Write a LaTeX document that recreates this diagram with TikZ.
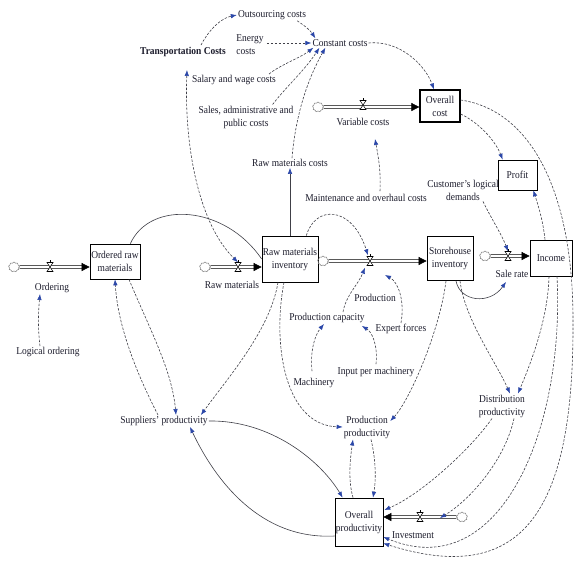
\documentclass[tikz,border=0pt]{standalone}
\usepackage{fontspec}
\setmainfont{Liberation Serif}[FakeStretch=0.9]
\usetikzlibrary{arrows.meta,calc,shapes.symbols}
\definecolor{lg}{HTML}{404048}
\definecolor{ab}{HTML}{2B47A8}
\definecolor{tx}{HTML}{1C1C2C}
\newcommand\flowto[2]{%
  \draw[pipe] (#1) -- (#2 |- #1);
  \draw[pipetip] ($(#2 |- #1)!7pt!(#1)$) -- (#2 |- #1);}
\begin{document}
\begin{tikzpicture}[x=1pt,y=-1pt,
  font=\fontsize{10.5}{13}\selectfont,
  lbl/.style={text=tx, inner sep=1pt, align=center},
  stock/.style={draw=black, line width=0.7pt, inner sep=0pt, align=center, text=tx},
  conn/.style={draw=lg, line width=0.6pt, dash pattern=on 2.5pt off 1.5pt,
     -{Latex[length=6pt,width=4.5pt,color=ab]}},
  sconn/.style={conn, solid},
  bconn/.style={draw=lg, line width=0.6pt, dash pattern=on 2.5pt off 1.5pt,
     {Latex[length=6pt,width=4.5pt,color=ab]}-{Latex[length=6pt,width=4.5pt,color=ab]}},
  pipe/.style={draw=black, double=white, double distance=1.8pt, line width=0.75pt, shorten >=6pt},
  pipetip/.style={-{Triangle[length=8pt,width=8pt]}, black, line width=0.5pt},
  cloudn/.style={cloud, cloud puffs=9, draw=gray, line width=0.5pt, minimum width=11pt, minimum height=10pt, inner sep=0pt},
  valven/.style={inner sep=0pt, minimum width=7pt, minimum height=9pt},
  valvepic/.pic={\draw[line width=0.55pt, fill=white] (-3,-4.5)--(3,-4.5)--(-3,4.5)--(3,4.5)--cycle;
                 \draw[line width=0.55pt] (0,-4.5)--(0,-7.5);}
]
\useasboundingbox (0,0) rectangle (574,571);
\fill[white] (0,0) rectangle (574,571);

% ---------- text variables ----------
\node[lbl] (outs) at (272,15) {Outsourcing costs};
\node[lbl, align=left] (energy) at (250,45) {Energy\\costs};
\node[lbl, font=\fontsize{10.5}{13}\selectfont\bfseries] (trans) at (183,52) {Transportation Costs};
\node[lbl] (constc) at (340,43) {Constant costs};
\node[lbl] (salary) at (234,80) {Salary and wage costs};
\node[lbl] (sales) at (246,117) {Sales, administrative and\\public costs};
\node[lbl] (rmcosts) at (290,163) {Raw materials costs};
\node[lbl] (maint) at (366,198) {Maintenance and overhaul costs};
\node[lbl] (cust) at (463,190) {Customer's logical\\demands};
\node[lbl] (logord) at (48,352) {Logical ordering};
\node[lbl] (prodcap) at (327,318) {Production capacity};
\node[lbl] (expert) at (401,329) {Expert forces};
\node[lbl] (inputpm) at (376,372) {Input per machinery};
\node[lbl] (machinery) at (314,383) {Machinery};
\node[lbl] (supp) at (164,421) {Suppliers' productivity};
\node[lbl] (prodprod) at (367,427) {Production\\productivity};
\node[lbl] (distprod) at (502,406) {Distribution\\productivity};

% ---------- stocks ----------
\node[stock, minimum width=50pt, minimum height=35pt] (ordrm) at (115,261.5) {Ordered raw\\materials};
\node[stock, minimum width=56pt, minimum height=46pt] (rminv) at (290,259) {Raw materials\\inventory};
\node[stock, minimum width=46pt, minimum height=44pt] (store) at (450,258.5) {Storehouse\\inventory};
\node[stock, minimum width=42pt, minimum height=36pt] (income) at (551,258) {Income};
\node[stock, minimum width=39pt, minimum height=30pt] (profit) at (517.5,175) {Profit};
\node[stock, line width=1.2pt, minimum width=40pt, minimum height=32pt] (ocost) at (440,106) {Overall\\cost};
\node[stock, minimum width=48pt, minimum height=48pt] (oprod) at (359,522) {Overall\\productivity};

% ---------- clouds, valves, flow labels ----------
\node[cloudn] (ordcloud) at (14,267) {};
\node[valven] (ordvalve) at (50,267) {};
\node[lbl] (ordlabel) at (52,288) {Ordering};
\node[cloudn] (rmcloud) at (205,267) {};
\node[valven] (rmvalve) at (238,267) {};
\node[lbl] (rmlabel) at (232,285) {Raw materials};
\node[cloudn] (prodcloud) at (323,261) {};
\node[valven] (prodvalve) at (370,261) {};
\node[lbl] (prodlabel) at (375,298) {Production};
\node[cloudn] (salecloud) at (485,256) {};
\node[valven] (salevalve) at (508,256) {};
\node[lbl] (salelabel) at (512,274) {Sale rate};
\node[cloudn] (varcloud) at (318,107) {};
\node[valven] (varvalve) at (363,105) {};
\node[lbl] (varlabel) at (363,122) {Variable costs};
\node[cloudn] (invcloud) at (462,517) {};
\node[valven] (invvalve) at (420,517) {};
\node[lbl] (invlabel) at (413,535) {Investment};

% ---------- flow pipes ----------
\flowto{ordcloud}{ordrm.west}
\flowto{rmcloud}{rminv.west}
\flowto{prodcloud}{store.west}
\flowto{salecloud}{income.west}
\flowto{varcloud}{ocost.west}
\flowto{invcloud}{oprod.east}
\foreach \v in {ordvalve,rmvalve,prodvalve,salevalve,varvalve,invvalve}
  \pic at (\v) {valvepic};

% ---------- cost cluster ----------
\draw[conn] ($(trans.north)+(18,-1)$) .. controls (210,28) and (222,18) .. (outs.west);
\draw[conn] ($(outs.south east)+(-10,0)$) .. controls (305,26) and (310,30) .. ($(constc.north west)+(4,0)$);
\draw[conn] ($(energy.east)+(2,-2)$) -- (constc.west);
\draw[conn] ($(salary.north east)+(-8,0)$) .. controls (280,65) and (300,58) .. ($(constc.south west)+(2,0)$);
\draw[conn] ($(sales.north east)+(-22,0)$) .. controls (285,88) and (305,70) .. ($(constc.south west)+(8,0)$);
\draw[conn] ($(rmcosts.north)+(2,0)$) .. controls (296,110) and (310,75) .. ($(constc.south west)+(14,0)$);
\draw[conn] (constc.east) .. controls (400,40) and (425,65) .. ($(ocost.north)+(-6,0)$);
\draw[conn] ($(maint.north)+(14,-2)$) .. controls (381,170) and (378,155) .. ($(varlabel.south)+(12,12)$);
\draw[conn] ($(ocost.east)+(0,8)$) .. controls (478,122) and (495,140) .. ($(profit.north west)+(5,0)$);
\draw[conn] ($(ocost.east)+(0,-6)$) .. controls (530,110) and (573,190) .. (573,320)
            .. controls (574,500) and (530,590) .. ($(oprod.south east)+(0,-3)$);
\draw[conn] ($(income.north)+(-6,0)$) .. controls (543,220) and (538,205) .. ($(profit.south east)+(-4,0)$);

% ---------- sales side ----------
\draw[conn] ($(cust.south)+(20,0)$) .. controls (492,220) and (502,235) .. (salevalve.north);
\draw[sconn] ($(store.south)+(6,0)$) .. controls (460,302) and (490,305) .. ($(salelabel.south)+(-6,3)$);
\draw[conn] ($(store.south)+(10,0)$) .. controls (465,320) and (495,360) .. ($(distprod.north)+(8,0)$);
\draw[conn] ($(store.south)+(-4,0)$) .. controls (440,330) and (410,400) .. ($(prodprod.east)+(-1,-6)$);
\draw[conn] ($(income.south)+(-2,0)$) .. controls (548,320) and (530,365) .. ($(distprod.north)+(16,0)$);
\draw[conn] ($(income.south)+(6,0)$) .. controls (565,430) and (500,585) .. ($(oprod.east)+(0,15)$);
\draw[conn] ($(distprod.south)+(-10,0)$) .. controls (470,450) and (420,495) .. ($(oprod.east)+(1,-12)$);
\draw[conn] ($(distprod.south)+(12,0)$) .. controls (505,460) and (470,500) .. ($(invvalve)+(20,1)$);

% ---------- production side ----------
\draw[sconn] (rminv.north) -- (rmcosts.south);
\draw[conn] ($(rminv.north east)+(-12,0)$) .. controls (315,205) and (352,205) .. ($(prodvalve.north)+(-2,-1)$);
\draw[conn] ($(prodcap.north)+(16,0)$) .. controls (346,295) and (358,285) .. ($(prodvalve.south)+(-5,2)$);
\draw[conn] (expert.north) .. controls (405,300) and (398,282) .. ($(prodvalve)+(15,14)$);
\draw[conn] ($(machinery.north)+(-2,-6)$) .. controls (310,350) and (315,335) .. ($(prodcap.south)+(-3,0)$);
\draw[conn] ($(inputpm.north)+(0,-2)$) .. controls (378,345) and (372,332) .. ($(prodcap.south east)+(-4,2)$);
\draw[conn] ($(rminv.south)+(-6,0)$) .. controls (272,345) and (285,425) .. (prodprod.west);
\draw[conn] ($(oprod.north)+(-6,0)$) .. controls (348,480) and (350,460) .. ($(prodprod.south)+(-14,0)$);
\draw[conn] ($(prodprod.south)+(4,0)$) .. controls (376,460) and (376,480) .. ($(oprod.north)+(14,0)$);

% ---------- supply side ----------
\draw[conn] ($(logord.north)+(-8,0)$) .. controls (38,330) and (38,315) .. ($(ordlabel.south)+(-12,0)$);
\draw[lg, line width=0.6pt] ($(ordrm.north east)+(-10,0)$) .. controls (150,200) and (225,205) .. (rminv.west);
\draw[bconn] ($(trans.south)+(4,12)$) .. controls (184,150) and (200,225) .. (rmvalve.north);
\draw[conn] ($(rminv.south)+(-12,0)$) .. controls (270,330) and (230,375) .. ($(supp.north east)+(-8,0)$);
\draw[conn] ($(ordrm.south)+(14,0)$) .. controls (150,330) and (172,370) .. ($(supp.north)+(12,0)$);
\draw[conn] ($(supp.north)+(-6,0)$) .. controls (140,380) and (118,330) .. (ordrm.south);
\draw[sconn] (supp.east) .. controls (270,420) and (320,460) .. ($(oprod.north west)+(8,0)$);
\draw[sconn] ($(oprod.west)+(0,14)$) .. controls (260,540) and (215,480) .. ($(supp.south)+(26,0)$);
\end{tikzpicture}
\end{document}
